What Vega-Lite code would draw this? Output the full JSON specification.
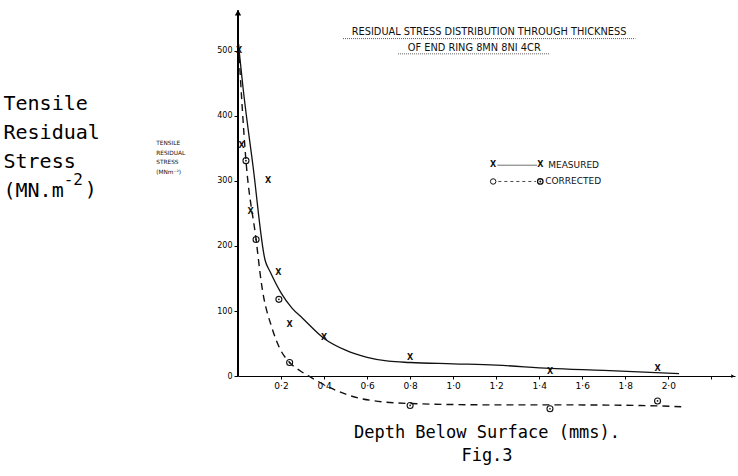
{
  "$schema": "https://vega.github.io/schema/vega-lite/v6.json",
  "width": 497,
  "height": 407,
  "autosize": {"type": "none"},
  "padding": {"left": 238, "top": 5, "right": 3, "bottom": 64},
  "background": "white",
  "config": {"view": {"stroke": null}, "font": "DejaVu Sans"},
  "data": {"values": [{}]},
  "datasets": {
    "mcurve": [
      {"depth": 0.002, "stress": 510}, {"depth": 0.023, "stress": 444}, {"depth": 0.07, "stress": 322},
      {"depth": 0.126, "stress": 178}, {"depth": 0.15, "stress": 160}, {"depth": 0.2, "stress": 128},
      {"depth": 0.25, "stress": 105}, {"depth": 0.3, "stress": 89}, {"depth": 0.4, "stress": 58},
      {"depth": 0.5, "stress": 40}, {"depth": 0.6, "stress": 29}, {"depth": 0.7, "stress": 23},
      {"depth": 0.8, "stress": 21}, {"depth": 1.0, "stress": 19}, {"depth": 1.2, "stress": 17},
      {"depth": 1.45, "stress": 12}, {"depth": 1.7, "stress": 9}, {"depth": 2.05, "stress": 4}
    ],
    "ccurve": [
      {"depth": 0.002, "stress": 510}, {"depth": 0.037, "stress": 331}, {"depth": 0.084, "stress": 210},
      {"depth": 0.11, "stress": 140}, {"depth": 0.16, "stress": 72}, {"depth": 0.195, "stress": 42},
      {"depth": 0.24, "stress": 21}, {"depth": 0.29, "stress": 8}, {"depth": 0.33, "stress": 0},
      {"depth": 0.43, "stress": -18}, {"depth": 0.58, "stress": -35}, {"depth": 0.8, "stress": -42},
      {"depth": 1.17, "stress": -44}, {"depth": 1.45, "stress": -44}, {"depth": 1.87, "stress": -45},
      {"depth": 2.06, "stress": -47}
    ],
    "mpts": [
      {"depth": 0.005, "stress": 500}, {"depth": 0.017, "stress": 353}, {"depth": 0.059, "stress": 252},
      {"depth": 0.14, "stress": 300}, {"depth": 0.187, "stress": 158}, {"depth": 0.24, "stress": 78},
      {"depth": 0.4, "stress": 58}, {"depth": 0.8, "stress": 28}, {"depth": 1.45, "stress": 6},
      {"depth": 1.95, "stress": 11}
    ],
    "cpts": [
      {"depth": 0.037, "stress": 331}, {"depth": 0.084, "stress": 210}, {"depth": 0.19, "stress": 118},
      {"depth": 0.24, "stress": 21}, {"depth": 0.8, "stress": -45}, {"depth": 1.45, "stress": -50},
      {"depth": 1.95, "stress": -38}
    ]
  },
  "layer": [
    {
      "data": {"name": "mcurve"},
      "mark": {"type": "line", "interpolate": "monotone", "color": "#111", "strokeWidth": 1.3},
      "encoding": {
        "x": {
          "field": "depth", "type": "quantitative",
          "scale": {"domain": [0, 2.31], "nice": false, "zero": false},
          "axis": {
            "title": ["Depth Below Surface (mms).", "\u00a0\u00a0Fig.3"],
            "titleFont": "DejaVu Sans Mono", "titleFontSize": 17, "titleFontWeight": "normal",
            "titleColor": "#000", "titleLineHeight": 23, "titlePadding": 34,
            "offset": -36,
            "values": [0.2, 0.4, 0.6, 0.8, 1.0, 1.2, 1.4, 1.6, 1.8, 2.0, 2.2],
            "labelExpr": "datum.value > 2.1 ? '' : replace(format(datum.value, '.1f'), '.', '·')",
            "labelFontSize": 9, "labelColor": "#000", "labelFlush": false, "labelPadding": 2,
            "tickColor": "#000", "tickSize": 3, "domainColor": "#000", "domainWidth": 1, "grid": false
          }
        },
        "y": {
          "field": "stress", "type": "quantitative",
          "scale": {"domain": [-55, 570], "nice": false, "zero": false},
          "axis": {
            "title": ["Tensile", "Residual", "Stress", "(MN.m"],
            "titleAngle": 0, "titleAlign": "left", "titleBaseline": "alphabetic",
            "titleX": -235, "titleY": 104,
            "titleFont": "DejaVu Sans Mono", "titleFontSize": 20, "titleFontWeight": "normal",
            "titleColor": "#000", "titleLineHeight": 29,
            "values": [0, 100, 200, 300, 400, 500], "format": "d",
            "labelFontSize": 8, "labelColor": "#000", "labelPadding": 2,
            "domain": false, "tickSize": 4, "tickColor": "#000", "grid": false
          }
        }
      }
    },
    {
      "data": {"name": "ccurve"},
      "mark": {"type": "line", "interpolate": "monotone", "color": "#111", "strokeWidth": 1.4, "strokeDash": [7, 5]},
      "encoding": {
        "x": {"field": "depth", "type": "quantitative"},
        "y": {"field": "stress", "type": "quantitative"}
      }
    },
    {
      "data": {"name": "mpts"},
      "mark": {"type": "text", "text": "X", "fontSize": 8, "fontWeight": "bold", "color": "#111", "align": "center", "baseline": "middle"},
      "encoding": {
        "x": {"field": "depth", "type": "quantitative"},
        "y": {"field": "stress", "type": "quantitative"}
      }
    },
    {
      "data": {"name": "cpts"},
      "mark": {"type": "point", "shape": "circle", "size": 36, "filled": false, "stroke": "#111", "strokeWidth": 1.1, "opacity": 1},
      "encoding": {
        "x": {"field": "depth", "type": "quantitative"},
        "y": {"field": "stress", "type": "quantitative"}
      }
    },
    {
      "data": {"name": "cpts"},
      "mark": {"type": "point", "shape": "circle", "size": 3, "filled": true, "color": "#111", "opacity": 1},
      "encoding": {
        "x": {"field": "depth", "type": "quantitative"},
        "y": {"field": "stress", "type": "quantitative"}
      }
    },
    {
      "mark": {"type": "rule", "color": "#000", "strokeWidth": 2},
      "encoding": {
        "x": {"datum": 0, "type": "quantitative"},
        "y": {"datum": 0, "type": "quantitative"},
        "y2": {"datum": 562}
      }
    },
    {
      "mark": {"type": "point", "shape": "triangle-up", "size": 40, "filled": true, "color": "#000", "opacity": 1},
      "encoding": {
        "x": {"datum": 0, "type": "quantitative"},
        "y": {"datum": 558, "type": "quantitative"}
      }
    },
    {
      "mark": {"type": "point", "shape": "triangle-right", "size": 14, "filled": true, "color": "#000", "opacity": 1},
      "encoding": {
        "x": {"datum": 2.3, "type": "quantitative"},
        "y": {"datum": 0, "type": "quantitative"}
      }
    },
    {
      "mark": {"type": "text", "text": "-2", "font": "DejaVu Sans Mono", "fontSize": 16, "color": "#000", "align": "left", "baseline": "alphabetic"},
      "encoding": {
        "x": {"datum": -0.81, "type": "quantitative"},
        "y": {"datum": 294, "type": "quantitative"}
      }
    },
    {
      "mark": {"type": "text", "text": ")", "font": "DejaVu Sans Mono", "fontSize": 20, "color": "#000", "align": "left", "baseline": "alphabetic"},
      "encoding": {
        "x": {"datum": -0.712, "type": "quantitative"},
        "y": {"datum": 276, "type": "quantitative"}
      }
    },
    {
      "mark": {"type": "text", "text": "RESIDUAL  STRESS DISTRIBUTION THROUGH THICKNESS", "fontSize": 9.8, "color": "#111", "align": "center", "baseline": "middle"},
      "encoding": {
        "x": {"datum": 1.167, "type": "quantitative"},
        "y": {"datum": 529, "type": "quantitative"}
      }
    },
    {
      "mark": {"type": "text", "text": "OF END RING 8MN 8NI 4CR", "fontSize": 9.8, "color": "#111", "align": "center", "baseline": "middle"},
      "encoding": {
        "x": {"datum": 1.098, "type": "quantitative"},
        "y": {"datum": 504.6, "type": "quantitative"}
      }
    },
    {
      "mark": {"type": "rule", "color": "#333", "strokeWidth": 0.8, "strokeDash": [1, 1]},
      "encoding": {
        "x": {"datum": 0.488, "type": "quantitative"},
        "x2": {"datum": 1.847},
        "y": {"datum": 518.4, "type": "quantitative"}
      }
    },
    {
      "mark": {"type": "rule", "color": "#333", "strokeWidth": 0.8, "strokeDash": [1, 1]},
      "encoding": {
        "x": {"datum": 0.744, "type": "quantitative"},
        "x2": {"datum": 1.451},
        "y": {"datum": 495, "type": "quantitative"}
      }
    },
    {
      "mark": {"type": "text", "text": "X", "fontSize": 8, "fontWeight": "bold", "color": "#111", "align": "center", "baseline": "middle"},
      "encoding": {
        "x": {"datum": 1.186, "type": "quantitative"},
        "y": {"datum": 324, "type": "quantitative"}
      }
    },
    {
      "mark": {"type": "text", "text": "X", "fontSize": 8, "fontWeight": "bold", "color": "#111", "align": "center", "baseline": "middle"},
      "encoding": {
        "x": {"datum": 1.405, "type": "quantitative"},
        "y": {"datum": 324, "type": "quantitative"}
      }
    },
    {
      "mark": {"type": "rule", "color": "#333", "strokeWidth": 0.7},
      "encoding": {
        "x": {"datum": 1.205, "type": "quantitative"},
        "x2": {"datum": 1.39},
        "y": {"datum": 324, "type": "quantitative"}
      }
    },
    {
      "mark": {"type": "text", "text": "MEASURED", "fontSize": 9, "color": "#111", "align": "left", "baseline": "middle"},
      "encoding": {
        "x": {"datum": 1.442, "type": "quantitative"},
        "y": {"datum": 324, "type": "quantitative"}
      }
    },
    {
      "mark": {"type": "rule", "color": "#333", "strokeWidth": 0.9, "strokeDash": [3, 3]},
      "encoding": {
        "x": {"datum": 1.21, "type": "quantitative"},
        "x2": {"datum": 1.385},
        "y": {"datum": 299, "type": "quantitative"}
      }
    },
    {
      "mark": {"type": "point", "shape": "circle", "size": 30, "filled": false, "stroke": "#111", "strokeWidth": 1, "opacity": 1},
      "encoding": {
        "x": {"datum": 1.186, "type": "quantitative"},
        "y": {"datum": 299, "type": "quantitative"}
      }
    },
    {
      "mark": {"type": "point", "shape": "circle", "size": 30, "filled": false, "stroke": "#111", "strokeWidth": 1.3, "opacity": 1},
      "encoding": {
        "x": {"datum": 1.405, "type": "quantitative"},
        "y": {"datum": 299, "type": "quantitative"}
      }
    },
    {
      "mark": {"type": "point", "shape": "circle", "size": 4, "filled": true, "color": "#111", "opacity": 1},
      "encoding": {
        "x": {"datum": 1.405, "type": "quantitative"},
        "y": {"datum": 299, "type": "quantitative"}
      }
    },
    {
      "mark": {"type": "text", "text": "CORRECTED", "fontSize": 9, "color": "#111", "align": "left", "baseline": "middle"},
      "encoding": {
        "x": {"datum": 1.428, "type": "quantitative"},
        "y": {"datum": 299, "type": "quantitative"}
      }
    },
    {
      "mark": {"type": "text", "text": ["TENSILE", "RESIDUAL", "STRESS", "(MNm⁻²)"], "fontSize": 5.8, "lineHeight": 9.5, "color": "#111", "align": "left", "baseline": "top"},
      "encoding": {
        "x": {"datum": -0.38, "type": "quantitative"},
        "y": {"datum": 362, "type": "quantitative"}
      }
    }
  ]
}
